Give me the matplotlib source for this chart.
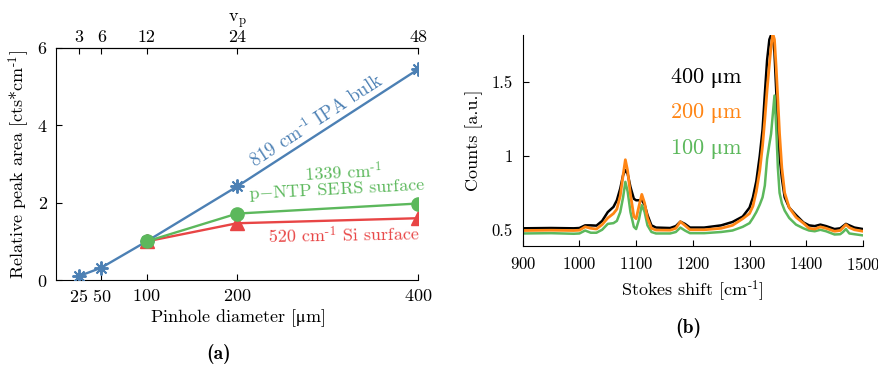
import matplotlib
matplotlib.use("Agg")
import matplotlib.pyplot as plt

# --- (a) relative peak area vs pinhole diameter ---
pinhole = [25, 50, 100, 200, 400]
vp_labels = ["3", "6", "12", "24", "48"]
ipa_x = [25, 50, 100, 200, 400]
ipa_area = [0.1, 0.32, 1.0, 2.42, 5.45]
si_x = [100, 200, 400]
si_area = [1.0, 1.47, 1.6]
ntp_x = [100, 200, 400]
ntp_area = [1.0, 1.72, 1.98]

# --- (b) spectra ---
shift = [900, 950, 990, 1000, 1010, 1020, 1030, 1040, 1050, 1060, 1066, 1072, 1077, 1081,
         1085, 1090, 1096, 1100, 1105, 1110, 1115, 1120, 1127, 1135, 1160, 1170, 1178, 1186,
         1195, 1220, 1250, 1270, 1288, 1300, 1306, 1312, 1318, 1323, 1327, 1331, 1335, 1338,
         1341, 1344, 1347, 1350, 1353, 1357, 1362, 1370, 1382, 1395, 1405, 1415, 1425, 1435,
         1450, 1460, 1465, 1470, 1476, 1485, 1500]
counts_400 = [0.51, 0.512, 0.51, 0.512, 0.53, 0.53, 0.528, 0.56, 0.62, 0.655, 0.70, 0.78, 0.87, 0.905,
              0.88, 0.79, 0.71, 0.70, 0.70, 0.70, 0.67, 0.60, 0.53, 0.515, 0.512, 0.525, 0.555, 0.54,
              0.515, 0.515, 0.53, 0.553, 0.59, 0.65, 0.72, 0.83, 1.0, 1.18, 1.42, 1.65, 1.79, 1.82,
              1.82, 1.70, 1.45, 1.20, 1.00, 0.85, 0.72, 0.65, 0.60, 0.55, 0.53, 0.525, 0.535, 0.525,
              0.505, 0.51, 0.525, 0.54, 0.53, 0.515, 0.505]
counts_200 = [0.495, 0.497, 0.495, 0.497, 0.52, 0.51, 0.505, 0.535, 0.58, 0.61, 0.64, 0.73, 0.87, 0.975,
              0.90, 0.74, 0.59, 0.575, 0.66, 0.74, 0.68, 0.58, 0.51, 0.498, 0.497, 0.51, 0.555, 0.53,
              0.50, 0.50, 0.51, 0.53, 0.575, 0.61, 0.66, 0.76, 0.90, 1.07, 1.25, 1.45, 1.62, 1.74,
              1.83, 1.79, 1.60, 1.38, 1.15, 0.92, 0.75, 0.65, 0.585, 0.545, 0.51, 0.505, 0.52, 0.51,
              0.49, 0.495, 0.515, 0.535, 0.515, 0.50, 0.49]
counts_100 = [0.475, 0.477, 0.473, 0.475, 0.495, 0.48, 0.48, 0.50, 0.54, 0.545, 0.56, 0.62, 0.72, 0.825,
              0.76, 0.62, 0.52, 0.505, 0.57, 0.667, 0.62, 0.53, 0.485, 0.475, 0.475, 0.485, 0.515, 0.495,
              0.477, 0.477, 0.485, 0.495, 0.52, 0.545, 0.58, 0.62, 0.67, 0.72, 0.80, 0.98, 1.08, 1.15,
              1.28, 1.41, 1.20, 0.92, 0.75, 0.68, 0.63, 0.58, 0.535, 0.51, 0.495, 0.49, 0.50, 0.49,
              0.468, 0.47, 0.485, 0.505, 0.475, 0.47, 0.462]

BLUE = "#4c80b4"
GREEN = "#5cb85c"
RED = "#e84545"
ORANGE = "#ff8514"

plt.rcParams["font.family"] = ["cmr10", "DejaVu Serif"]
plt.rcParams["mathtext.fontset"] = "cm"
plt.rcParams["axes.formatter.use_mathtext"] = True

INV = r"$^{\text{-}1}$"   # superscript -1 with a short hyphen
MU = r"$\mathrm{\mu}$"

fig = plt.figure(figsize=(8.79, 3.72), dpi=100)

# ---------------- panel (a) ----------------
ax = fig.add_axes([0.0637, 0.247, 0.412, 0.624])
ax.plot(ipa_x, ipa_area, color=BLUE, lw=1.7, marker=(8, 2, 0), ms=10, mew=1.4, zorder=3)
ax.plot(si_x, si_area, color=RED, lw=1.7, marker="^", ms=10, zorder=4)
ax.plot(ntp_x, ntp_area, color=GREEN, lw=1.7, marker="o", ms=9.5, zorder=5)
ax.set_xlim(0, 400)
ax.set_ylim(0, 6)
ax.set_xticks(pinhole)
ax.set_yticks([0, 2, 4, 6])
ax.tick_params(direction="in", labelsize=13, length=4, pad=6)
ax.spines["right"].set_visible(False)
ax.set_xlabel("Pinhole diameter [" + MU + "m]", fontsize=13, labelpad=1, math_fontfamily="stix")
ax.set_ylabel("Relative peak area [cts*cm" + INV + "]", fontsize=13, labelpad=4)

top = ax.secondary_xaxis("top")
top.set_xticks(pinhole)
top.set_xticklabels(vp_labels)
top.tick_params(direction="in", labelsize=13, length=4, pad=2)
top.set_xlabel(r"v$_{\mathrm{p}}$", fontsize=13, labelpad=6)

ax.text(288, 4.12, "819 cm" + INV + " IPA bulk", color=BLUE, fontsize=13.5,
        rotation=33, ha="center", va="center", rotation_mode="anchor")
ax.text(317, 2.78, "1339 cm" + INV, color=GREEN, fontsize=13,
        rotation=3, ha="center", va="center", rotation_mode="anchor")
ax.text(310, 2.32, r"p$-$NTP SERS surface", color=GREEN, fontsize=13,
        rotation=3, ha="center", va="center", rotation_mode="anchor")
ax.text(318, 1.16, "520 cm" + INV + " Si surface", color=RED, fontsize=13,
        rotation=1, ha="center", va="center", rotation_mode="anchor")

fig.text(0.249, 0.048, "(a)", family="cmb10", fontsize=14, ha="center", va="center")

# ---------------- panel (b) ----------------
bx = fig.add_axes([0.5947, 0.3387, 0.387, 0.567])
bx.plot(shift, counts_100, color=GREEN, lw=1.8)
bx.plot(shift, counts_200, color=ORANGE, lw=2.0)
bx.plot(shift, counts_400, color="black", lw=1.8, zorder=1.9)
bx.set_xlim(900, 1500)
bx.set_ylim(0.39, 1.82)
bx.set_xticks([900, 1000, 1100, 1200, 1300, 1400, 1500])
bx.set_yticks([0.5, 1, 1.5])
bx.set_yticklabels(["0.5", "1", "1.5"])
bx.tick_params(direction="in", labelsize=12, length=4, pad=7)
bx.spines["right"].set_visible(False)
bx.spines["top"].set_visible(False)
bx.set_xlabel("Stokes shift [cm" + INV + "]", fontsize=13, labelpad=4)
bx.set_ylabel("Counts [a.u.]", fontsize=13, labelpad=6)

for label, col, yv in [("400 ", "black", 1.53), ("200 ", ORANGE, 1.29), ("100 ", GREEN, 1.05)]:
    bx.text(1160, yv, label + MU + "m", color=col, fontsize=16, ha="left", va="center",
            math_fontfamily="stix")

fig.text(0.783, 0.118, "(b)", family="cmb10", fontsize=14, ha="center", va="center")

fig.savefig("out.png", dpi=100)
